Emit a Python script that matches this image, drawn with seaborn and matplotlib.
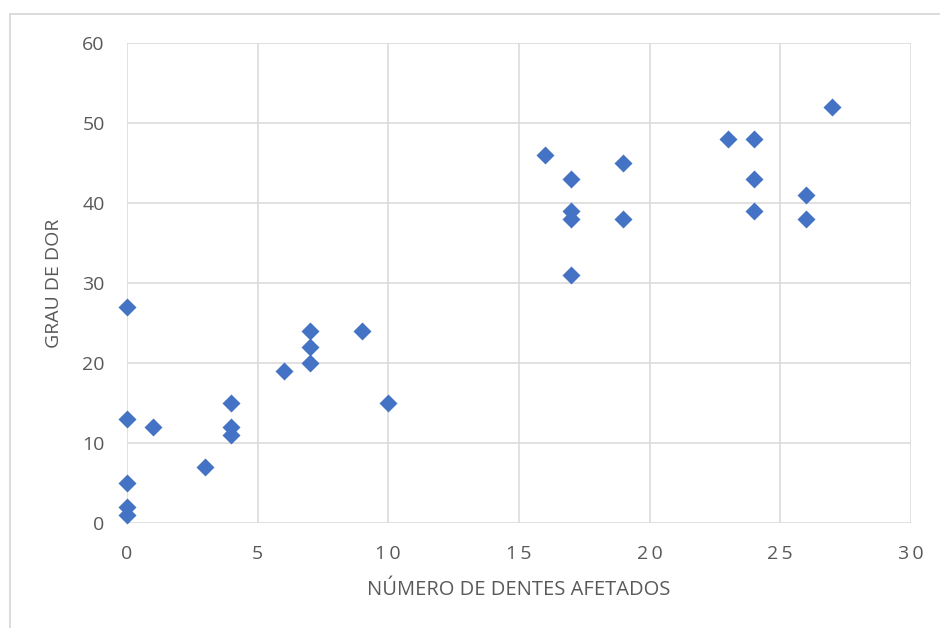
import matplotlib
matplotlib.use('Agg')
import matplotlib.pyplot as plt
import seaborn as sns
import pandas as pd
from matplotlib.patches import Rectangle

# --- Data ---
dentes = [0, 0, 0, 0, 0, 1, 3, 4, 4, 4, 6, 7, 7, 7, 9, 10,
          16, 17, 17, 17, 17, 19, 19, 23, 24, 24, 24, 26, 26, 27]
dor = [1, 2, 5, 13, 27, 12, 7, 15, 12, 11, 19, 24, 22, 20, 24, 15,
       46, 43, 39, 38, 31, 45, 38, 48, 48, 43, 39, 41, 38, 52]

x_ticks = [0, 5, 10, 15, 20, 25, 30]
y_ticks = [0, 10, 20, 30, 40, 50, 60]

df = pd.DataFrame({'dentes': dentes, 'dor': dor})

# --- Style ---
sns.set_theme(style='white')
plt.rcParams['font.family'] = ['Open Sans', 'DejaVu Sans']

grid_col = '#D9D9D9'
text_col = '#595959'

fig = plt.figure(figsize=(9.4, 6.28), dpi=100)
ax = fig.add_axes([0.135, 0.1672, 0.834, 0.7643])

# outer chart frame (Excel style)
fig.patches.append(Rectangle((10 / 940, -0.1), 1.0, 1 - 14 / 628 + 0.1,
                             transform=fig.transFigure, fill=False,
                             edgecolor=grid_col, linewidth=1.3))

sns.scatterplot(data=df, x='dentes', y='dor', marker='D', s=84,
                color='#4472C4', linewidth=0, ax=ax, zorder=3, clip_on=False)

ax.set_xlim(0, 30)
ax.set_ylim(0, 60)
ax.set_xticks(x_ticks)
ax.set_yticks(y_ticks)
# letter-spaced x tick labels, like the original
ax.set_xticklabels(['\u2009'.join(str(t)) for t in x_ticks])
ax.grid(True, color=grid_col, linewidth=1.1)
ax.set_axisbelow(True)
for sp in ax.spines.values():
    sp.set_visible(False)

ax.tick_params(axis='both', length=0, labelsize=14, colors=text_col)
ax.tick_params(axis='x', pad=16)
ax.tick_params(axis='y', pad=16)

ax.set_xlabel('NÚMERO DE DENTES AFETADOS', fontsize=14.5, color=text_col, labelpad=12)
ax.set_ylabel('GRAU DE DOR', fontsize=14, color=text_col, labelpad=14)

fig.savefig('out.png', dpi=100)
